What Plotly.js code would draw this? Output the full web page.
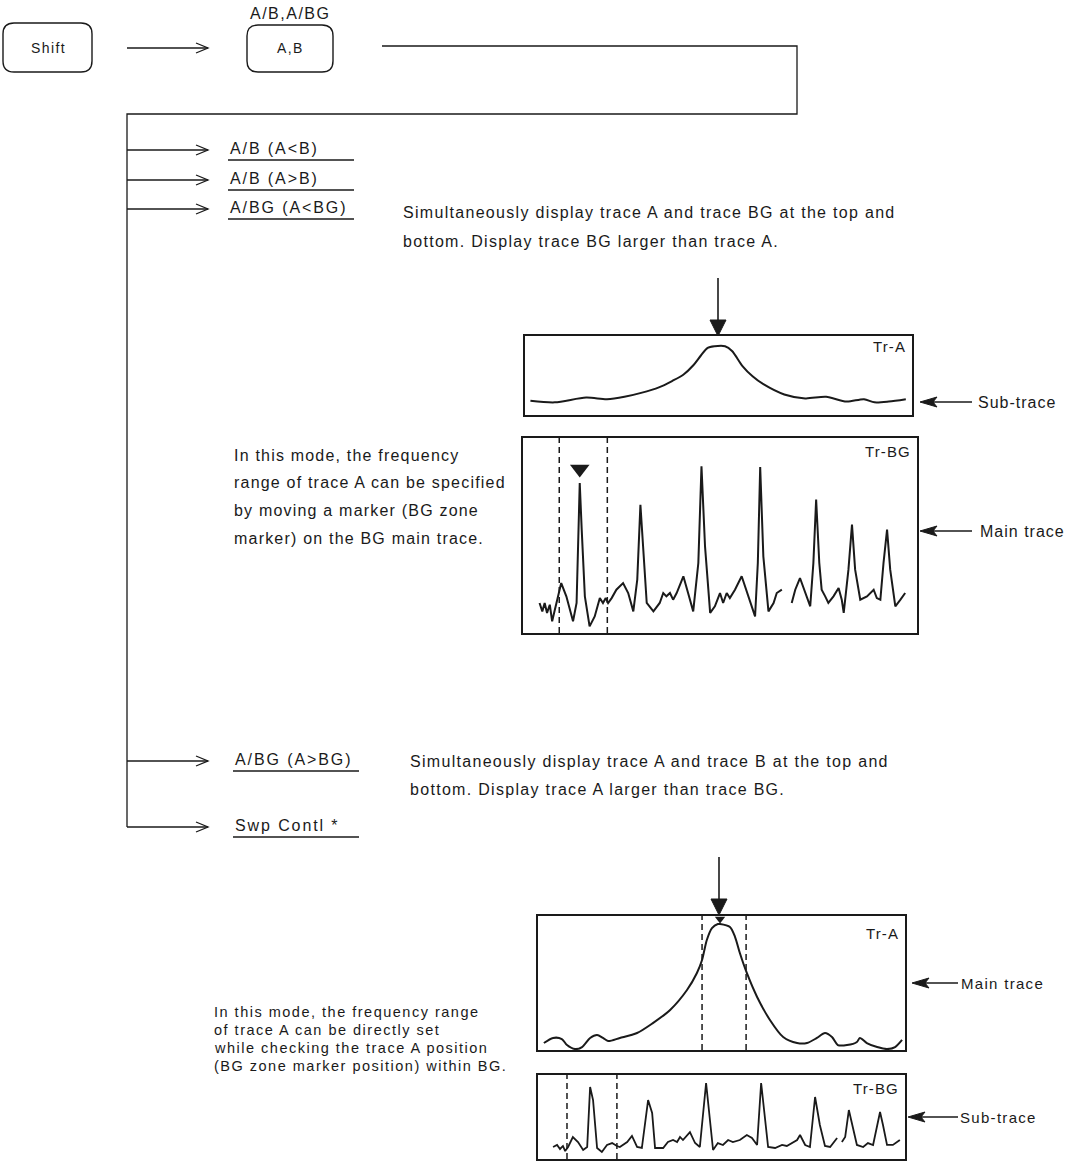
<!DOCTYPE html>
<html>
<head>
<meta charset="utf-8">
<script src="https://cdn.plot.ly/plotly-3.0.1.min.js"></script>
<style>html,body{margin:0;padding:0;background:#fff;}#chart{width:1065px;height:1162px;}</style>
</head>
<body>
<div id="chart"></div>
<script>
// ---- Data (x: % of span, y: % of screen height) ----
// Upper pair: A/BG (A<BG)  -> Tr-A sub trace (top), Tr-BG main trace
const trATopX = [1.4, 7.7, 15.8, 21.2, 25.7, 30, 34.6, 38, 40.9, 43.5, 45.4, 47.2, 49, 51.7, 53.5, 56.2, 58.8, 61.6, 67, 72.4, 77.8, 83.1, 87.6, 90.3, 94, 98.4];
const trATopY = [18, 16, 22, 20, 23, 28, 35, 43, 51, 63, 75, 85, 87, 87, 81, 62, 49, 39, 26, 21, 23, 17, 20, 16, 17, 20];

const trBGMainX = [4.2, 4.9, 5.5, 6.1, 6.8, 7.4, 8.1, 9.2, 9.7, 11.0, 12.7, 13.6, 14.1, 14.4, 14.9, 15.7, 16.9, 18.2, 19.5, 20.3, 21.0, 21.6, 22.5, 23.7, 25.4, 26.7, 28.0, 29.0, 29.8, 30.7, 31.4, 33.1, 34.7, 35.6, 36.4, 37.3, 38.1, 39.0, 40.7, 41.9, 43.2, 44.5, 45.3, 46.2, 47.5, 48.7, 50.0, 50.8, 51.7, 52.5, 53.8, 55.5, 57.2, 58.9, 59.6, 60.2, 61.0, 62.3, 63.6, 64.4, 65.7, null, 68.2, 69.1, 70.3, 71.6, 72.9, 73.7, 74.4, 75.2, 75.8, 76.7, 77.5, 78.8, 80.1, 80.9, 81.4, 82.6, 83.5, 84.3, 85.6, 87.3, 89.0, 89.8, 90.7, 91.5, 92.4, 93.2, 94.5, 95.8, 97.0];
const trBGMainY = [15.4, 11.1, 15.4, 10.3, 14.5, 6.0, 12.0, 20.5, 25.6, 18.8, 6.0, 15.4, 53, 76.9, 53, 18.8, 3.4, 8.5, 17.9, 15.4, 17.9, 15.4, 17.9, 22.2, 25.6, 20.5, 11.1, 27.4, 65.8, 35.9, 15.4, 11.1, 15.4, 20.5, 18.8, 20.5, 17.1, 20.5, 29.1, 20.5, 11.1, 35.9, 85.5, 44.4, 10.3, 13.7, 20.5, 15.4, 20.5, 17.9, 22.2, 29.1, 18.8, 8.5, 35.9, 85.1, 39.3, 11.1, 15.4, 20.5, 22.2, null, 15.4, 22.2, 28.2, 20.5, 13.7, 35.9, 68.4, 35.9, 22.2, 18.8, 15.4, 18.8, 23.1, 17.1, 10.3, 32.5, 55.6, 32.5, 17.1, 18.8, 22.2, 17.9, 17.1, 35.9, 53.0, 32.5, 13.7, 17.1, 20.5];
const bgZoneMainEdges = [9.2, 21.4];
const bgMarkerMainX = [14.4];
const bgMarkerMainY = [84.1];

// Lower pair: A/BG (A>BG) -> Tr-A main trace (top), Tr-BG sub trace
const trAMainX = [1.6, 4.1, 6.5, 7.9, 10.1, 12.0, 14.2, 16.1, 17.7, 19.1, 22.3, 27.0, 31.3, 36.0, 40.6, 43.3, 44.7, 46.0, 47.4, 49.0, 49.6, 52.3, 53.7, 55.0, 56.9, 59.7, 63.2, 66.8, 70.6, 73.3, 76.0, 78.2, 80.1, 81.7, 84.2, 86.9, 87.7, 89.6, 92.4, 95.1, 97.3, 99.2];
const trAMainY = [5.2, 9.0, 8.2, 3.7, 0.7, 2.2, 9.0, 11.2, 9.0, 6.7, 9.0, 12.7, 20.1, 29.9, 44.8, 57.5, 67.2, 82.1, 91.0, 94.0, 94.0, 91.8, 84.3, 72.4, 57.5, 39.6, 22.4, 9.7, 5.2, 5.2, 9.0, 12.7, 9.7, 3.7, 3.7, 6.0, 9.0, 5.2, 2.2, 0.7, 2.2, 7.5];
const aZoneEdges = [44.7, 56.7];
const aMarkerX = [49.6];
const aMarkerY = [97.8];

const trBGSubX = [4.1, 5.2, 6.0, 6.8, 7.4, 8.2, 9.5, 10.9, 12.3, 13.4, 14.2, 15.0, 16.1, 17.4, 18.8, 20.2, 21.5, 22.3, 24.3, 25.6, 27.0, 28.3, 30.0, 31.1, 31.9, 34.1, 35.4, 36.8, 37.9, 38.7, 39.5, 41.4, 42.8, 44.1, 45.8, 46.6, 47.7, 49.0, 50.4, 51.8, 53.1, 55.0, 56.9, 58.3, 59.7, 60.8, 61.9, 62.7, 64.6, 66.5, 67.8, 69.2, 70.6, 71.4, 72.8, 74.1, 75.5, 76.8, 78.2, 79.6, 80.9, 81.5, null, 82.8, 83.7, 84.7, 85.8, 86.9, 88.6, 89.9, 91.3, 93.2, 94.0, 95.1, 96.7, 98.6];
const trBGSubY = [14.3, 16.7, 11.9, 15.5, 9.5, 14.3, 26.2, 20.2, 10.7, 14.3, 85.7, 70.2, 13.1, 8.3, 16.7, 19.0, 15.5, 14.3, 20.2, 27.4, 14.3, 13.1, 70.2, 54.8, 13.1, 13.1, 20.2, 22.6, 20.2, 26.2, 22.6, 32.1, 19.0, 14.3, 90.5, 58.3, 10.7, 19.0, 16.7, 22.6, 20.2, 22.6, 28.6, 25.0, 16.7, 90.5, 48.8, 14.3, 13.1, 16.7, 15.5, 19.0, 22.6, 28.6, 16.7, 14.3, 73.8, 40.5, 15.5, 14.3, 22.6, 25.0, null, 20.2, 26.2, 58.3, 38.1, 16.7, 14.3, 19.0, 16.7, 56.0, 40.5, 16.7, 16.7, 22.6];
const bgZoneSubEdges = [7.9, 21.5];

// Text content
const menuTop = 'A/B,A/BG';
const keyShift = 'Shift';
const keyAB = 'A,B';
const menuItems = ['A/B (A<B)', 'A/B (A>B)', 'A/BG (A<BG)', 'A/BG (A>BG)', 'Swp Contl *'];
const descUpper = ['Simultaneously display trace A and trace BG at the top and', 'bottom. Display trace BG larger than trace A.'];
const descLower = ['Simultaneously display trace A and trace B at the top and', 'bottom. Display trace A larger than trace BG.'];
const noteUpper = ['In this mode, the frequency', 'range of trace A can be specified', 'by moving a marker (BG zone', 'marker) on the BG main trace.'];
const noteLower = ['In this mode, the frequency range', 'of trace A can be directly set', 'while checking the trace A position', '(BG zone marker position) within BG.'];
const traceNames = ['Tr-A', 'Tr-BG', 'Tr-A', 'Tr-BG'];
const pointerLabels = ['Sub-trace', 'Main trace', 'Main trace', 'Sub-trace'];

// ---- Layout helpers ----
const W = 1065, H = 1162;
const FONT = 'Liberation Sans, Arial, Helvetica, sans-serif';
const INK = '#1a1a1a';
const dx = p => p / W;
const dy = p => 1 - p / H;
const esc = s => s.replace(/&/g, '&amp;').replace(/</g, '&lt;').replace(/>/g, '&gt;');
const spaced = (s, ls) => `<span style="letter-spacing:${ls}px">${esc(s)}</span>`;

const boxes = [
  {x0: 525, x1: 912, y0: 336, y1: 415},
  {x0: 523, x1: 917, y0: 438, y1: 633},
  {x0: 538, x1: 905, y0: 916, y1: 1050},
  {x0: 538, x1: 905, y0: 1075, y1: 1159}
];

function plotAxis(b, isX, anchor) {
  return {
    domain: isX ? [dx(b.x0), dx(b.x1)] : [dy(b.y1), dy(b.y0)],
    range: [0, 100], anchor: anchor,
    showgrid: false, zeroline: false, showticklabels: false, ticks: '',
    showline: true, mirror: true, linewidth: 2, linecolor: INK, fixedrange: true
  };
}

const shapes = [];
const annotations = [];
function L(x0, y0, x1, y1, w) {
  shapes.push({type: 'line', xref: 'x5', yref: 'y5', x0, y0, x1, y1, line: {color: INK, width: w || 1.3}});
}
function P(path, fill, w) {
  shapes.push({type: 'path', xref: 'x5', yref: 'y5', path, fillcolor: fill || 'rgba(0,0,0,0)', line: {color: INK, width: w === undefined ? 1.3 : w}});
}
function T(x, y, text, size, ls, anchor) {
  annotations.push({xref: 'x5', yref: 'y5', x, y, text: spaced(text, ls), showarrow: false, xanchor: anchor || 'left', yanchor: 'middle', font: {family: FONT, size, color: INK}});
}
function rrect(x0, y0, x1, y1, r) {
  return `M${x0 + r},${y0} L${x1 - r},${y0} Q${x1},${y0} ${x1},${y0 + r} L${x1},${y1 - r} Q${x1},${y1} ${x1 - r},${y1} L${x0 + r},${y1} Q${x0},${y1} ${x0},${y1 - r} L${x0},${y0 + r} Q${x0},${y0} ${x0 + r},${y0} Z`;
}
function openArrowRight(x0, x1, y) {
  L(x0, y, x1, y);
  P(`M${x1 - 12},${y - 5} L${x1},${y} L${x1 - 12},${y + 5}`);
}
function dartLeft(xTip, xEnd, y) {
  L(xTip + 10, y, xEnd, y, 1.5);
  P(`M${xTip},${y} L${xTip + 17},${y - 5} L${xTip + 13},${y} L${xTip + 17},${y + 5} Z`, INK, 1);
}
function downArrow(x, yTop, yTip) {
  L(x, yTop, x, yTip - 14, 1.6);
  P(`M${x - 8},${yTip - 16} L${x + 8},${yTip - 16} L${x},${yTip} Z`, INK, 1);
}

// Key boxes and top line
P(rrect(3, 23, 92, 72, 11), null, 1.4);
T(48, 48, keyShift, 14, 1.4, 'center');
openArrowRight(127, 208, 48);
P(rrect(247, 25, 333, 72, 11), null, 1.4);
T(290, 48, keyAB, 14, 1.4, 'center');
T(290, 13, menuTop, 16, 1.5, 'center');
P('M382,46 L797,46 L797,114 L127,114 L127,827', null, 1.3);

// Menu branches
const rowY = [150, 180, 209, 761, 827];
const labelX = [228, 228, 228, 233, 233];
menuItems.forEach((m, i) => {
  openArrowRight(127, 208, rowY[i]);
  T(labelX[i], rowY[i] - 2, m, 16, 1.9);
  L(labelX[i], rowY[i] + 10, labelX[i] + 126, rowY[i] + 10, 1.3);
});

// Descriptions
T(401, 212, descUpper[0], 16, 1.3);
T(401, 241, descUpper[1], 16, 1.3);
T(408, 761, descLower[0], 16, 1.3);
T(408, 789, descLower[1], 16, 1.3);
noteUpper.forEach((s, i) => T(232, 455 + i * 27.7, s, 16, 1.2));
noteLower.forEach((s, i) => T(212, 1012 + i * 18, s, 14.5, 1.5));

// Pointer arrows
downArrow(718, 278, 336);
downArrow(719, 857, 915);
dartLeft(920, 972, 402); T(976, 402, pointerLabels[0], 16, 1.0);
dartLeft(920, 972, 531); T(978, 531, pointerLabels[1], 16, 1.0);
dartLeft(912, 958, 983); T(959, 983, pointerLabels[2], 15, 1.3);
dartLeft(908, 958, 1117); T(958, 1117, pointerLabels[3], 15, 1.3);

// Trace names inside boxes
const nameY = [0.87, 0.93, 0.87, 0.84];
traceNames.forEach((n, i) => {
  annotations.push({xref: (i ? 'x' + (i + 1) : 'x') + ' domain', yref: (i ? 'y' + (i + 1) : 'y') + ' domain',
    x: 0.99, y: nameY[i], xanchor: 'right', yanchor: 'middle', text: spaced(n, 1.1), showarrow: false,
    font: {family: FONT, size: 15, color: INK}});
});

// Zone marker dashed lines
function zone(edges, ax) {
  edges.forEach(v => shapes.push({type: 'line', xref: 'x' + ax, yref: 'y' + ax + ' domain', x0: v, x1: v, y0: 0, y1: 1,
    line: {color: INK, width: 1.5, dash: '6px,4px'}}));
}
zone(bgZoneMainEdges, 2);
zone(aZoneEdges, 3);
zone(bgZoneSubEdges, 4);

const lineStyle = {color: INK, width: 2};
const data = [
  {x: trATopX, y: trATopY, xaxis: 'x', yaxis: 'y', mode: 'lines', line: Object.assign({shape: 'spline', smoothing: 0.8}, lineStyle), hoverinfo: 'skip'},
  {x: trBGMainX, y: trBGMainY, xaxis: 'x2', yaxis: 'y2', mode: 'lines', line: {color: INK, width: 2}, hoverinfo: 'skip'},
  {x: bgMarkerMainX, y: bgMarkerMainY, xaxis: 'x2', yaxis: 'y2', mode: 'markers', marker: {symbol: 'triangle-down', size: 17, color: INK}, cliponaxis: false, hoverinfo: 'skip'},
  {x: trAMainX, y: trAMainY, xaxis: 'x3', yaxis: 'y3', mode: 'lines', line: Object.assign({shape: 'spline', smoothing: 0.8}, lineStyle), hoverinfo: 'skip'},
  {x: aMarkerX, y: aMarkerY, xaxis: 'x3', yaxis: 'y3', mode: 'markers', marker: {symbol: 'triangle-down', size: 9, color: INK}, cliponaxis: false, hoverinfo: 'skip'},
  {x: trBGSubX, y: trBGSubY, xaxis: 'x4', yaxis: 'y4', mode: 'lines', line: {color: INK, width: 1.8}, hoverinfo: 'skip'},
  {x: [], y: [], xaxis: 'x5', yaxis: 'y5', mode: 'lines', hoverinfo: 'skip'}
];

const layout = {
  width: W, height: H, margin: {l: 0, r: 0, t: 0, b: 0},
  paper_bgcolor: '#ffffff', plot_bgcolor: 'rgba(0,0,0,0)', showlegend: false,
  xaxis: plotAxis(boxes[0], true, 'y'), yaxis: plotAxis(boxes[0], false, 'x'),
  xaxis2: plotAxis(boxes[1], true, 'y2'), yaxis2: plotAxis(boxes[1], false, 'x2'),
  xaxis3: plotAxis(boxes[2], true, 'y3'), yaxis3: plotAxis(boxes[2], false, 'x3'),
  xaxis4: plotAxis(boxes[3], true, 'y4'), yaxis4: plotAxis(boxes[3], false, 'x4'),
  xaxis5: {domain: [0, 1], range: [0, W], visible: false, fixedrange: true, anchor: 'y5'},
  yaxis5: {domain: [0, 1], range: [H, 0], visible: false, fixedrange: true, anchor: 'x5'},
  shapes, annotations
};

Plotly.newPlot('chart', data, layout, {staticPlot: true, displayModeBar: false});
</script>
</body>
</html>
